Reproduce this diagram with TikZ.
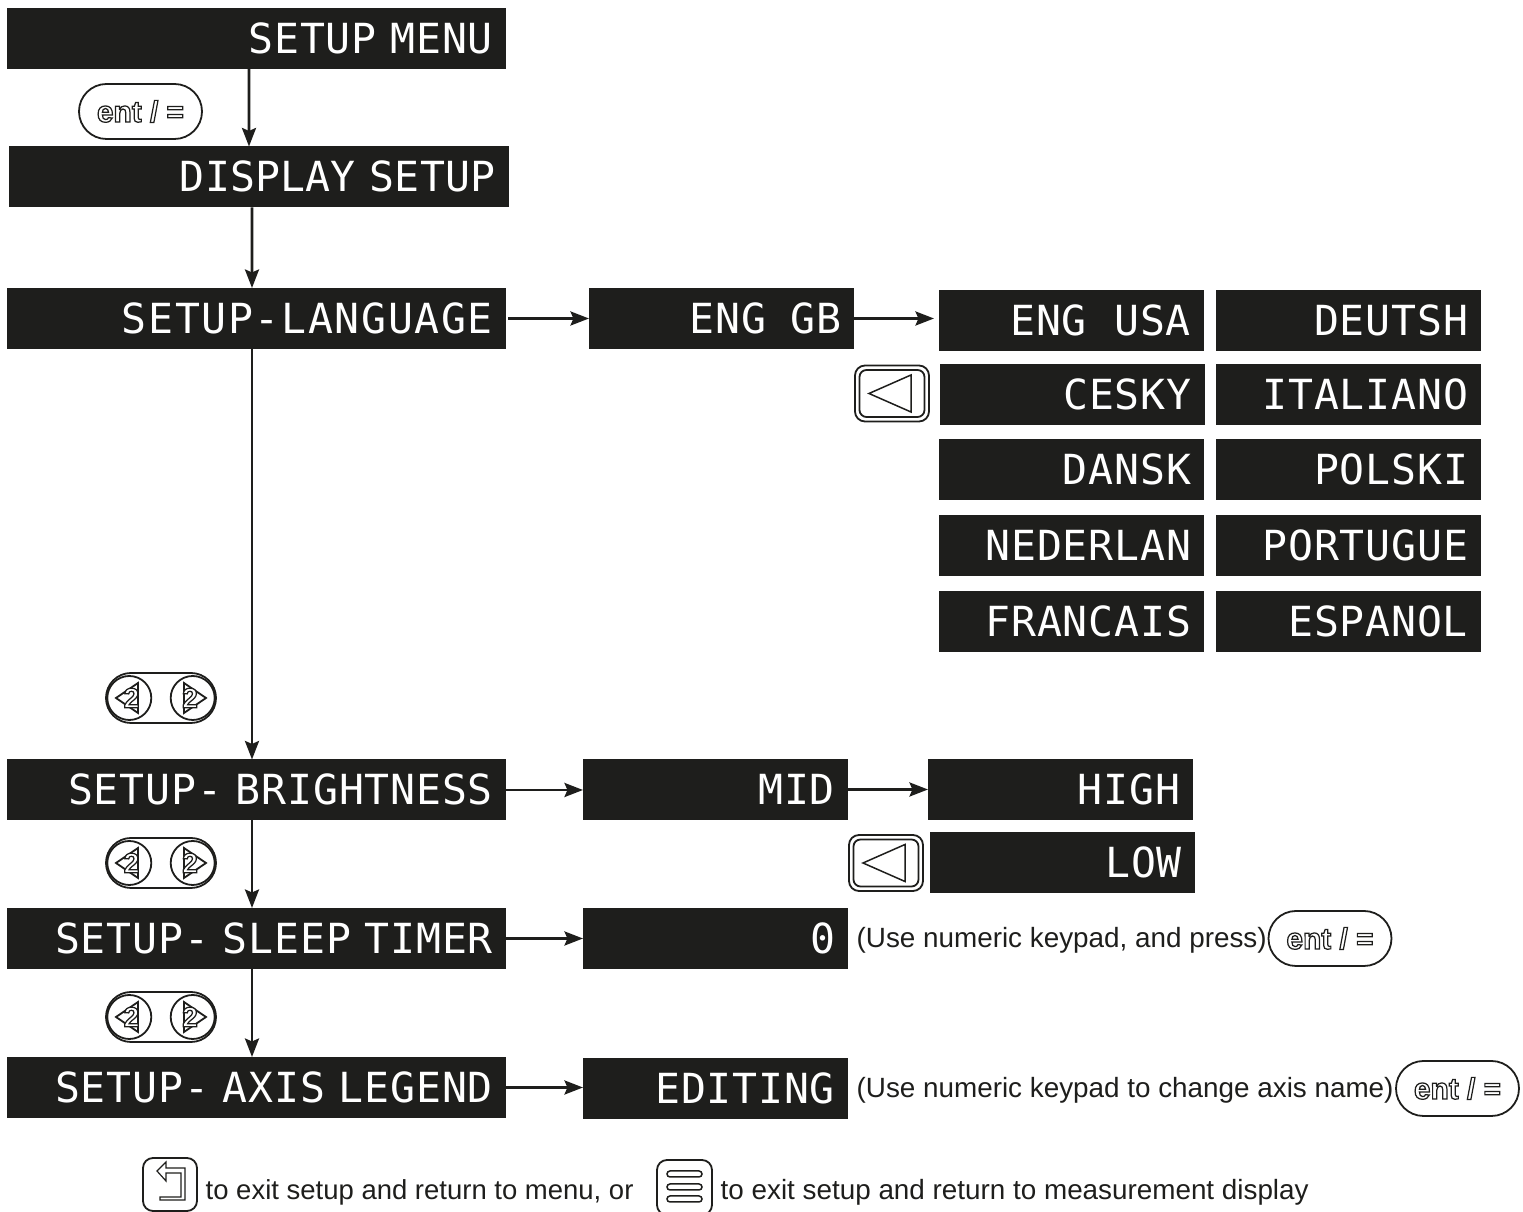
\documentclass[tikz,border=0pt]{standalone}
\usepackage{fontspec}
\setmainfont{Liberation Sans}
\newfontfamily\lcdfamily[LetterSpace=2]{DejaVu Sans Mono}
\usetikzlibrary{arrows.meta,shapes.misc}
\definecolor{lcdblack}{HTML}{1E1E1C}
\tikzset{
	lcdbox/.style={fill=lcdblack, text=white, font=\lcdfamily\fontsize{11.8}{12}\selectfont, minimum height=0.61cm, inner xsep=0.13cm, inner ysep=0, outer sep=0, align=right, text height=0.3cm, text depth=0},
	lcdwide/.style={lcdbox, text width=4.73cm},
	lcdshort/.style={lcdbox, text width=2.39cm},
	flowline/.style={line width=0.28mm, color=lcdblack, -{Stealth[length=0.185cm, width=0.14cm, inset=0.03cm]}},
	keyline/.style={line width=0.18mm, color=lcdblack},
	entkey/.style={keyline, draw, rounded rectangle, minimum width=1.23cm, minimum height=0.55cm, inner sep=0, font=\bfseries\fontsize{8.5}{9}\selectfont},
	plaintext/.style={font=\fontsize{7.92}{10}\selectfont, color=lcdblack, anchor=west, inner sep=0}
}
\def\hollow#1{\textcolor{white}{\special{pdf:code q 2 Tr 0.35 w 0.118 0.118 0.11 RG}#1\special{pdf:code Q}}}
\def\enttext{\hollow{ent / =}}
\def\twokeys(#1)#2{
	\begin{scope}[shift={(#1)}, keyline]
		\draw[rounded corners=0.25cm] (-0.55, -0.25) rectangle (0.55, 0.25);
		\draw (-0.317, 0) circle (0.22);
		\draw (0.317, 0) circle (0.22);
		\draw (-0.45, 0) -- (-0.23, 0.15) -- (-0.23, -0.15) -- cycle;
		\draw (0.45, 0) -- (0.23, 0.15) -- (0.23, -0.15) -- cycle;
		\node[inner sep=0, font=\bfseries\fontsize{8}{9}\selectfont] (#2l) at (-0.295, 0) {\hollow{2}};
		\node[inner sep=0, font=\bfseries\fontsize{8}{9}\selectfont] (#2r) at (0.29, 0) {\hollow{2}};
	\end{scope}
}
\def\backkey(#1){
	\begin{scope}[shift={(#1)}, keyline]
		\draw[rounded corners=0.1cm] (-0.37, -0.28) rectangle (0.37, 0.28);
		\draw[rounded corners=0.07cm] (-0.325, -0.235) rectangle (0.325, 0.235);
		\draw[line width=0.15mm] (-0.23, 0) -- (0.19, 0.185) -- (0.19, -0.185) -- cycle;
	\end{scope}
}

\begin{document}
\begin{tikzpicture}
	%%%%% START %%%%%
	\useasboundingbox (0, 0) rectangle (15.23, 12.12);
	
	\node[lcdwide] (menu) at (2.565, 11.735) {SETUP MENU};
	\node[lcdwide] (display) at (2.59, 10.35) {\addfontfeature{LetterSpace=0.5}DISPLAY SETUP};
	\node[lcdwide] (language) at (2.565, 8.935) {\addfontfeature{LetterSpace=4}SETUP-LANGUAGE};
	\node[lcdwide] (brightness) at (2.565, 4.22) {SETUP- BRIGHTNESS};
	\node[lcdwide] (sleep) at (2.565, 2.735) {SETUP- SLEEP TIMER};
	\node[lcdwide] (axis) at (2.565, 1.245) {SETUP- AXIS LEGEND};
	
	\node[lcdshort] (enggb) at (7.215, 8.935) {ENG\hspace{0.1cm} GB};
	\node[lcdshort] (engusa) at (10.715, 8.91) {ENG~~USA};
	\node[lcdshort] (deutsh) at (13.485, 8.91) {DEUTSH};
	\node[lcdshort] (cesky) at (10.72, 8.17) {CESKY};
	\node[lcdshort] (italiano) at (13.485, 8.17) {ITALIANO};
	\node[lcdshort] (dansk) at (10.715, 7.42) {DANSK};
	\node[lcdshort] (polski) at (13.485, 7.42) {POLSKI};
	\node[lcdshort] (nederlan) at (10.715, 6.66) {NEDERLAN};
	\node[lcdshort] (portugue) at (13.485, 6.66) {PORTUGUE};
	\node[lcdshort] (francais) at (10.715, 5.905) {FRANCAIS};
	\node[lcdshort] (espanol) at (13.485, 5.905) {ESPANOL};
	
	\node[lcdshort] (mid) at (7.155, 4.225) {MID};
	\node[lcdshort] (high) at (10.605, 4.225) {HIGH};
	\node[lcdshort] (low) at (10.625, 3.495) {LOW};
	\node[lcdshort] (zero) at (7.155, 2.735) {0};
	\node[lcdshort] (editing) at (7.155, 1.235) {EDITING};
	
	\draw[flowline] ([xshift=-0.075cm]menu.south) -- ([xshift=-0.1cm]display.north);
	\draw[flowline] ([xshift=-0.07cm]display.south) -- ([xshift=-0.045cm]language.north);
	\draw[flowline] ([xshift=-0.045cm]language.south) -- ([xshift=-0.045cm]brightness.north);
	\draw[flowline] ([xshift=-0.045cm]brightness.south) -- ([xshift=-0.045cm]sleep.north);
	\draw[flowline] ([xshift=-0.045cm]sleep.south) -- ([xshift=-0.045cm]axis.north);
	
	\draw[flowline] ([xshift=0.02cm]language.east) -- (language.east -| enggb.west);
	\draw[flowline] (enggb.east) -- ([xshift=-0.05cm]enggb.east -| engusa.west);
	\draw[flowline] (brightness.east) -- (brightness.east -| mid.west);
	\draw[flowline] (mid.east) -- (mid.east -| high.west);
	\draw[flowline] (sleep.east) -- (sleep.east -| zero.west);
	\draw[flowline] (axis.east) -- (axis.east -| editing.west);
	
	\node[entkey] (entfirst) at (1.405, 11.005) {\enttext};
	\node[entkey] (entsleep) at (13.30, 2.735) {\enttext};
	\node[entkey] (entaxis) at (14.575, 1.235) {\enttext};
	
	\twokeys(1.61, 5.14){keysa}
	\twokeys(1.61, 3.49){keysb}
	\twokeys(1.61, 1.95){keysc}
	
	\backkey(8.92, 8.185)
	\backkey(8.86, 3.49)
	
	\node[plaintext] (sleepnote) at (8.56, 2.72) {(Use numeric keypad, and press)};
	\node[plaintext] (axisnote) at (8.56, 1.22) {(Use numeric keypad to change axis name)};
	\node[plaintext, font=\fontsize{7.82}{10}\selectfont] (exitmenu) at (2.05, 0.20) {to exit setup and return to menu, or};
	\node[plaintext] (exitdisplay) at (7.2, 0.20) {to exit setup and return to measurement display};
	
	% return key
	\draw[keyline, rounded corners=0.1cm] (1.43, 0.01) rectangle (1.97, 0.54);
	\draw[keyline, line width=0.12mm] (1.57, 0.41) -- (1.66, 0.50) -- (1.66, 0.44) -- (1.85, 0.44) -- (1.85, 0.12) -- (1.60, 0.12) -- (1.60, 0.15) -- (1.81, 0.15) -- (1.81, 0.39) -- (1.66, 0.39) -- (1.66, 0.31) -- cycle;
	
	% menu key
	\draw[keyline, rounded corners=0.1cm] (6.57, -0.03) rectangle (7.12, 0.52);
	\draw[keyline, line width=0.15mm, rounded corners=0.03cm] (6.67, 0.35) rectangle (7.02, 0.41);
	\draw[keyline, line width=0.15mm, rounded corners=0.03cm] (6.67, 0.22) rectangle (7.02, 0.28);
	\draw[keyline, line width=0.15mm, rounded corners=0.03cm] (6.67, 0.10) rectangle (7.02, 0.16);
	%%%%% END %%%%%
\end{tikzpicture}
\end{document}
